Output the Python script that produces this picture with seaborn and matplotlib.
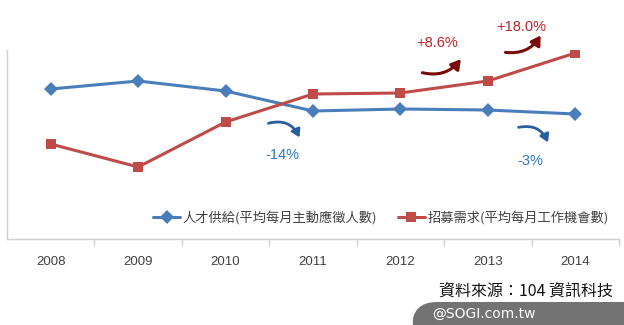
import matplotlib
matplotlib.use("Agg")
import matplotlib.pyplot as plt
import seaborn as sns
import pandas as pd
from matplotlib.patches import FancyArrowPatch, FancyBboxPatch

years = [2008, 2009, 2010, 2011, 2012, 2013, 2014]
supply = [150, 158, 148, 128, 130, 129, 125]
demand = [95, 72, 117, 145, 146, 158, 186]
supply_label = "人才供給(平均每月主動應徵人數)"
demand_label = "招募需求(平均每月工作機會數)"
source_text = "資料來源：104 資訊科技"
watermark = "@SOGI.com.tw"

sns.set_theme(style="white")
plt.rcParams['font.family'] = ['Noto Sans CJK TC', 'DejaVu Sans']

blue = "#4a7ebb"
red = "#be4b48"

df = pd.DataFrame({
    "year": years * 2,
    "value": supply + demand,
    "series": [supply_label] * len(years) + [demand_label] * len(years),
})

fig = plt.figure(figsize=(6.24, 3.25), dpi=100)
ax = fig.add_axes([7/624, 1-239/325, 612/624, 189/325])

sns.lineplot(data=df, x="year", y="value", hue="series", style="series",
             palette=[blue, red], markers=["D", "s"], dashes=False,
             markersize=7.5, linewidth=2.2, markeredgewidth=0, ax=ax)

ax.set_xlim(2007.5, 2014.5)
ax.set_ylim(0, 189)
ax.set_xlabel("")
ax.set_ylabel("")
ax.set_yticks([])
ax.set_xticks([y + 0.5 for y in years[:-1]] + [2014.5])
ax.set_xticklabels([])
ax.set_xticks(years, minor=True)
ax.set_xticklabels([str(y) for y in years], minor=True, fontsize=9.5,
                   color="#404040", family=["Liberation Sans"])
ax.tick_params(axis="x", which="major", length=5, width=1, color="#d0d0d0", direction="out", bottom=True)
ax.tick_params(axis="x", which="minor", length=0, pad=12)
for s in ["top", "right"]:
    ax.spines[s].set_visible(False)
for s in ["left", "bottom"]:
    ax.spines[s].set_color("#d0d0d0")
    ax.spines[s].set_linewidth(1)

leg = ax.legend(loc="center", bbox_to_anchor=(0.611, 0.111), ncol=2, frameon=False,
                fontsize=9.5, handlelength=2, columnspacing=1.6, handletextpad=0.2)
for t in leg.get_texts():
    t.set_color("#404040")

# annotations
def arrow(p0, p1, color, rad, lw, hw):
    a = FancyArrowPatch(p0, p1, connectionstyle=f"arc3,rad={rad}",
                        arrowstyle=f"-|>,head_length={hw},head_width={hw*0.6}",
                        color=color, lw=lw, clip_on=False, mutation_scale=10)
    ax.add_patch(a)

arrow((2010.46, 115), (2010.86, 99), "#2a5f9e", -0.45, 2.0, 0.45)
arrow((2013.32, 111), (2013.70, 94), "#2a5f9e", -0.45, 2.0, 0.45)
arrow((2012.22, 167), (2012.71, 182), "#7a0a0a", 0.35, 2.2, 0.55)
arrow((2013.17, 187), (2013.62, 206), "#7a0a0a", 0.35, 2.2, 0.55)

tb = dict(ha="center", va="center", fontsize=10.5, family=["Liberation Sans"], clip_on=False)
ax.text(2010.65, 84, "-14%", color="#2f78c4", **tb)
ax.text(2013.48, 78, "-3%", color="#2f78c4", **tb)
ax.text(2012.42, 196, "+8.6%", color="#c0202a", **tb)
ax.text(2013.38, 212, "+18.0%", color="#c0202a", **tb)

fig.text(613/624, 1-291/325, source_text, ha="right", va="center", fontsize=11.5, color="#111111")

box = FancyBboxPatch((412/624, -0.05), 0.40, 0.05 + 23/325,
                     boxstyle="round,pad=0,rounding_size=0.04",
                     transform=fig.transFigure, facecolor="#737373", edgecolor="none",
                     mutation_aspect=624/325)
fig.patches.append(box)
fig.text(432/624, 1-314/325, watermark, ha="left", va="center", fontsize=10,
         color="white", family=["DejaVu Sans"])

fig.savefig("out.png", dpi=100)
